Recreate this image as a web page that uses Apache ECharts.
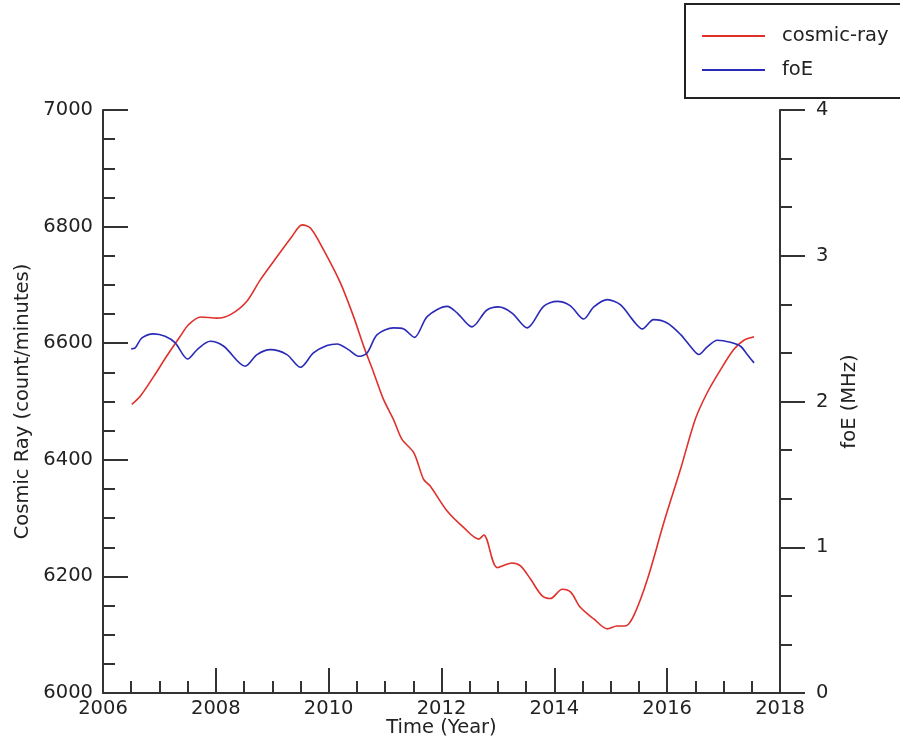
<!DOCTYPE html>
<html><head><meta charset="utf-8">
<script src="https://cdn.jsdelivr.net/npm/echarts@6/dist/echarts.min.js"></script>
<style>html,body{margin:0;padding:0;background:#fff}#c{width:900px;height:743px}</style>
</head><body><div id="c"></div>
<script>
var crYears = [2006.51,2006.66,2006.90,2007.13,2007.37,2007.52,2007.73,2008.02,2008.26,2008.55,2008.79,2009.09,2009.35,2009.53,2009.68,2009.91,2010.21,2010.44,2010.62,2010.80,2010.97,2011.15,2011.30,2011.51,2011.68,2011.80,2012.10,2012.39,2012.66,2012.75,2012.99,2013.25,2013.40,2013.58,2013.78,2013.93,2014.14,2014.29,2014.46,2014.70,2014.94,2015.11,2015.26,2015.41,2015.65,2015.94,2016.24,2016.50,2016.71,2016.95,2017.18,2017.36,2017.54];
var crValues = [6495,6509,6543,6578,6612,6632,6645,6643,6649,6672,6709,6749,6783,6803,6797,6760,6703,6646,6595,6549,6504,6469,6435,6412,6367,6355,6312,6284,6264,6271,6215,6223,6218,6195,6167,6162,6178,6173,6147,6127,6110,6115,6115,6133,6195,6292,6385,6470,6515,6555,6589,6605,6611];
var foeYears = [2006.50,2006.57,2006.69,2006.90,2007.10,2007.28,2007.50,2007.67,2007.90,2008.14,2008.52,2008.73,2008.97,2009.26,2009.50,2009.73,2009.97,2010.15,2010.35,2010.53,2010.68,2010.86,2011.15,2011.33,2011.52,2011.75,2012.10,2012.28,2012.54,2012.80,2013.01,2013.25,2013.52,2013.81,2014.05,2014.28,2014.52,2014.70,2014.94,2015.17,2015.41,2015.56,2015.76,2016.00,2016.24,2016.41,2016.56,2016.71,2016.89,2017.12,2017.30,2017.42,2017.54];
var foeValues = [2.361,2.368,2.436,2.464,2.447,2.402,2.292,2.356,2.413,2.379,2.242,2.322,2.356,2.322,2.235,2.333,2.384,2.395,2.356,2.310,2.333,2.459,2.505,2.498,2.440,2.584,2.653,2.607,2.512,2.626,2.649,2.607,2.505,2.653,2.687,2.658,2.566,2.649,2.699,2.664,2.550,2.498,2.562,2.539,2.459,2.379,2.322,2.374,2.420,2.406,2.379,2.322,2.265];
var seriesNames = ['cosmic-ray','foE'];

function pairs(xs, ys){ return xs.map(function(x,i){return [x, ys[i]];}); }
function plain(v){ return String(v); }

var FONT = 'DejaVu Sans';
var FS = 19.5;
var axisCol = '#333';
var txtCol = '#222';
var chart = echarts.init(document.getElementById('c'), null, {renderer:'canvas'});
chart.setOption({
  animation:false,
  backgroundColor:'#fff',
  textStyle:{fontFamily:FONT},
  grid:{left:103, right:120, top:110, bottom:49, containLabel:false},
  legend:{
    data:seriesNames, orient:'vertical', left:685, top:4,
    padding:[22,200,18,17], itemGap:14, itemWidth:63, itemHeight:2,
    icon:'rect', borderColor:'#222', borderWidth:2, backgroundColor:'#fff',
    textStyle:{fontFamily:FONT, fontSize:FS, color:txtCol, lineHeight:20, padding:[0,0,0,12]}
  },
  xAxis:{
    type:'value', min:2006, max:2018, interval:2,
    name:'Time (Year)', nameLocation:'middle', nameGap:25, nameMoveOverlap:false,
    nameTextStyle:{fontFamily:FONT, fontSize:FS, color:txtCol},
    axisLine:{lineStyle:{color:axisCol, width:2}},
    axisTick:{inside:true, length:25, lineStyle:{color:axisCol, width:2}},
    minorTick:{show:true, splitNumber:4, length:12, lineStyle:{color:axisCol, width:2}},
    axisLabel:{fontFamily:FONT, fontSize:FS, color:txtCol, margin:6, formatter:plain},
    splitLine:{show:false}
  },
  yAxis:[{
    type:'value', min:6000, max:7000, interval:200, position:'left',
    name:'Cosmic Ray (count/minutes)', nameLocation:'middle', nameGap:70, nameRotate:90, nameMoveOverlap:false,
    nameTextStyle:{fontFamily:FONT, fontSize:FS, color:txtCol},
    axisLine:{show:true, lineStyle:{color:axisCol, width:2}},
    axisTick:{show:true, inside:true, length:25, lineStyle:{color:axisCol, width:2}},
    minorTick:{show:true, splitNumber:4, length:12, lineStyle:{color:axisCol, width:2}},
    axisLabel:{fontFamily:FONT, fontSize:FS, color:txtCol, margin:10, formatter:plain},
    splitLine:{show:false}
  },{
    type:'value', min:0, max:4, interval:1, position:'right',
    name:'foE (MHz)', nameLocation:'middle', nameGap:60, nameRotate:90, nameMoveOverlap:false,
    nameTextStyle:{fontFamily:FONT, fontSize:FS, color:txtCol},
    axisLine:{show:true, lineStyle:{color:axisCol, width:2}},
    axisTick:{show:true, inside:false, length:25, lineStyle:{color:axisCol, width:2}},
    minorTick:{show:true, splitNumber:3, length:12, lineStyle:{color:axisCol, width:2}},
    axisLabel:{fontFamily:FONT, fontSize:FS, color:txtCol, margin:36, formatter:plain},
    splitLine:{show:false}
  }],
  series:[{
    name:seriesNames[0], type:'line', yAxisIndex:0, showSymbol:false, smooth:0.3,
    data:pairs(crYears, crValues), color:'#e0302a', lineStyle:{width:1.6, color:'#e0302a'}
  },{
    name:seriesNames[1], type:'line', yAxisIndex:1, showSymbol:false, smooth:0.3,
    data:pairs(foeYears, foeValues), color:'#2a2ab8', lineStyle:{width:1.6, color:'#2a2ab8'}
  }]
});
</script></body></html>
